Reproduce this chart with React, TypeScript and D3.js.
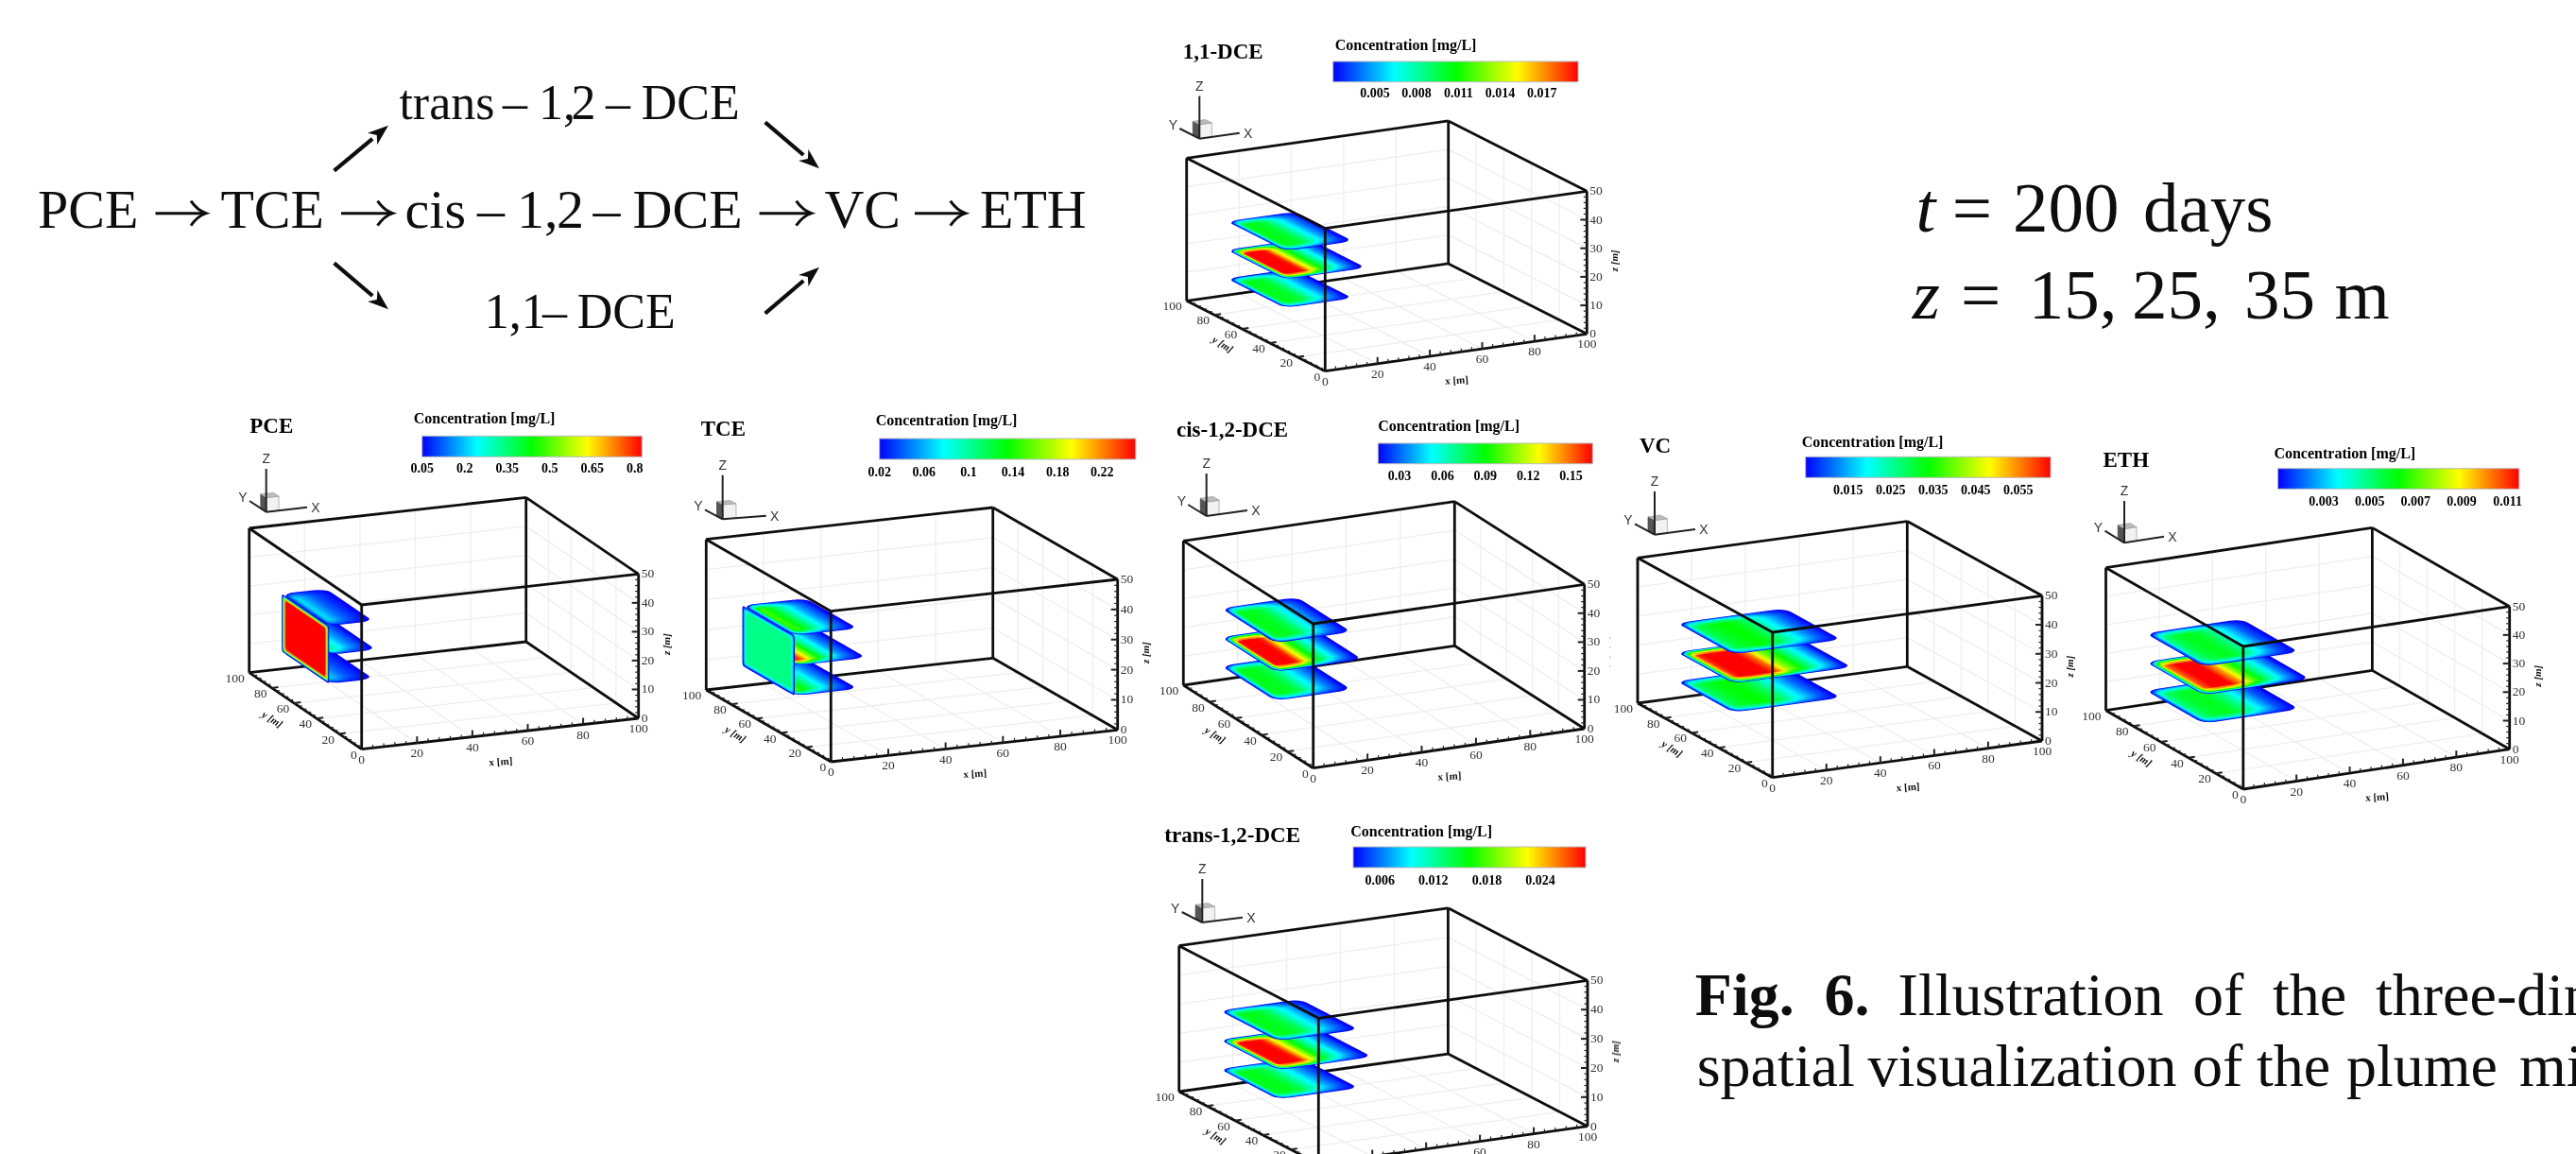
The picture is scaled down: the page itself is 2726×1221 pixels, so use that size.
import React from "react";
import * as d3 from "d3";

// ---------- data ----------
const axisTicksXY = [0, 20, 40, 60, 80, 100];
const axisTicksZ = [0, 10, 20, 30, 40, 50];
const sliceDepths = [15, 25, 35];
const plumeStations = [0, 0.05, 0.1, 0.2, 0.35, 0.45, 0.55, 0.65, 0.75, 0.85, 0.95, 1];

const pceTicks = [0.05, 0.2, 0.35, 0.5, 0.65, 0.8];
const tceTicks = [0.02, 0.06, 0.1, 0.14, 0.18, 0.22];
const cisTicks = [0.03, 0.06, 0.09, 0.12, 0.15];
const vcTicks = [0.015, 0.025, 0.035, 0.045, 0.055];
const ethTicks = [0.003, 0.005, 0.007, 0.009, 0.011];
const dce11Ticks = [0.005, 0.008, 0.011, 0.014, 0.017];
const transTicks = [0.006, 0.012, 0.018, 0.024];

const pceLabels = ["0.05", "0.2", "0.35", "0.5", "0.65", "0.8"];
const tceLabels = ["0.02", "0.06", "0.1", "0.14", "0.18", "0.22"];
const cisLabels = ["0.03", "0.06", "0.09", "0.12", "0.15"];
const vcLabels = ["0.015", "0.025", "0.035", "0.045", "0.055"];
const ethLabels = ["0.003", "0.005", "0.007", "0.009", "0.011"];
const dce11Labels = ["0.005", "0.008", "0.011", "0.014", "0.017"];
const transLabels = ["0.006", "0.012", "0.018", "0.024"];

const pceRange = [0.05, 0.825];
const tceRange = [0.02, 0.25];
const cisRange = [0.015, 0.165];
const vcRange = [0.005, 0.0626];
const ethRange = [0.001, 0.0115];
const dce11Range = [0.002, 0.0196];
const transRange = [0.003, 0.0291];

const pceMid = [0.5, 0.46, 0.4, 0.33, 0.26, 0.22, 0.18, 0.15, 0.12, 0.09, 0.065, 0.05];
const pceOuter = [0.28, 0.27, 0.25, 0.21, 0.17, 0.14, 0.12, 0.1, 0.085, 0.07, 0.055, 0.05];
const tceMid = [0.25, 0.25, 0.25, 0.235, 0.17, 0.135, 0.1, 0.078, 0.055, 0.04, 0.027, 0.02];
const tceOuter = [0.135, 0.145, 0.15, 0.145, 0.12, 0.1, 0.082, 0.065, 0.05, 0.038, 0.026, 0.02];
const cisMid = [0.09, 0.132, 0.162, 0.172, 0.1605, 0.126, 0.093, 0.072, 0.0525, 0.0345, 0.021, 0.015];
const cisOuter = [0.057, 0.075, 0.084, 0.087, 0.084, 0.0765, 0.063, 0.051, 0.039, 0.0285, 0.0195, 0.015];
const vcMid = [0.034, 0.048, 0.06, 0.0655, 0.064, 0.057, 0.042, 0.034, 0.025, 0.0165, 0.0085, 0.005];
const vcOuter = [0.019, 0.025, 0.029, 0.032, 0.034, 0.032, 0.028, 0.022, 0.0165, 0.011, 0.007, 0.005];
const ethMid = [0.0057, 0.0084, 0.0105, 0.0117, 0.0115, 0.0099, 0.0075, 0.0057, 0.0042, 0.0027, 0.0015, 0.001];
const ethOuter = [0.0031, 0.0042, 0.005, 0.0057, 0.006, 0.0057, 0.005, 0.0039, 0.0029, 0.0019, 0.0013, 0.001];
const dce11Mid = [0.0108, 0.0157, 0.0192, 0.0205, 0.0191, 0.015, 0.0112, 0.0087, 0.0064, 0.0043, 0.0027, 0.002];
const dce11Outer = [0.0069, 0.009, 0.0101, 0.0104, 0.0101, 0.0092, 0.0076, 0.0062, 0.0048, 0.0036, 0.0025, 0.002];
const transMid = [0.016, 0.0234, 0.0286, 0.0304, 0.0283, 0.0223, 0.0166, 0.0129, 0.0095, 0.0064, 0.004, 0.003];
const transOuter = [0.0103, 0.0134, 0.015, 0.0155, 0.015, 0.0137, 0.0114, 0.0093, 0.0072, 0.0053, 0.0038, 0.003];

const compounds = ["PCE", "TCE", "cis-1,2-DCE", "VC", "ETH", "1,1-DCE", "trans-1,2-DCE"];
const plumeLengthMid = [17, 25, 32, 44, 40, 31, 35];
const plumeLengthOuter = [16, 22, 28, 40, 36, 26, 30];
const sourceValues = [0.84, 0.105, null, null, null, null, null];
const plumeSpanY = [29, 71];
const sourceSpanZ = [15, 35];

const rainbowStops = [0, 0.25, 0.5, 0.75, 1];
const rainbowColors = ["#0000ff", "#00ffff", "#00ff00", "#ffff00", "#ff0000"];

// ---------- layout ----------
type Pt = [number, number];
const PAGE_H = 1221;
const layouts: any[] = [
  { O: [382.7, 792.7], X: [293, -32.7], Y: [-119, -81], Z: 152.7, bar: [446.7, 679.3, 461.3, 483.3], conc: [437.7, 448.3], tickY: 500, name: [264.3, 457.7],
    tri: { o: [281.7, 541.7], z: [281.7, 496], x: [325, 536.7], y: [264, 530] }, zTitle: true },
  { O: [879.3, 806], X: [303.4, -33.7], Y: [-132, -76], Z: 159.3, bar: [930.7, 1201.7, 464, 486], conc: [926.7, 450], tickY: 504.3, name: [741.7, 460.7],
    tri: { o: [764.7, 549.3], z: [764.7, 502.7], x: [810.7, 545.7], y: [746, 539.3] }, zTitle: true },
  { O: [1389.7, 812.7], X: [287, -41.7], Y: [-137.4, -87.7], Z: 152.7, bar: [1458.3, 1685.3, 469, 490.7], conc: [1458.3, 456], tickY: 508.3, name: [1245, 461.7],
    tri: { o: [1276.7, 546], z: [1276.7, 501], x: [1320, 540], y: [1257.3, 534] }, zTitle: false },
  { O: [1875.7, 822.7], X: [285.3, -38.7], Y: [-142.7, -78.7], Z: 153.7, bar: [1910.7, 2170, 483.3, 505.3], conc: [1906.7, 472.7], tickY: 523.3, name: [1735, 479.3],
    tri: { o: [1751, 565.7], z: [1751, 520], x: [1794, 560], y: [1730, 554.3] }, zTitle: true },
  { O: [2373.8, 835], X: [281.9, -42.3], Y: [-145.3, -83.3], Z: 151, bar: [2410.4, 2665.8, 495.7, 517.3], conc: [2406.4, 485], tickY: 535, name: [2225.5, 494],
    tri: { o: [2248, 574.3], z: [2248, 530], x: [2290, 567.7], y: [2227.5, 561.7] }, zTitle: true },
  { O: [1402.3, 392.7], X: [277, -39.4], Y: [-146.6, -74.4], Z: 151, bar: [1410.7, 1670, 65, 86.7], conc: [1412.7, 53], tickY: 103, name: [1251.7, 61.7],
    tri: { o: [1269.3, 146.7], z: [1269.3, 101.7], x: [1311.7, 140.7], y: [1248.3, 136] }, zTitle: true },
  { O: [1395.3, 1231.6], X: [284.7, -39.9], Y: [-147.6, -76.6], Z: 154.3, bar: [1432, 1678, 896, 918], conc: [1429.3, 885], tickY: 935.7, name: [1232.3, 890.7],
    tri: { o: [1272.3, 976], z: [1272.3, 930], x: [1315, 970.7], y: [1250.7, 965] }, zTitle: true },
];

const SERIF = "'Liberation Serif', 'Times New Roman', serif";
const SANS = "'Liberation Sans', Arial, sans-serif";

const rimK = [0, 0.3, 0.5, 0.7, 0.85, 1];
const rimY = [0, 0.8, 1.6, 2.8, 4.2, 6];
const rimX = [0, 0.5, 1, 1.5, 2, 2.5];
const faceK = [0, 0.35, 0.65, 0.85, 1];
const faceY = [0, 0.8, 1.6, 2.4, 3.2];
const faceZ = [0, 0.4, 0.8, 1.2, 1.6];

const rainbow = d3.scaleLinear<string>().domain(rainbowStops).range(rainbowColors).clamp(true);

function roundedRect(x0: number, y0: number, x1: number, y1: number, r: number) {
  const p = d3.path();
  p.moveTo(x0 + r, y0);
  p.lineTo(x1 - r, y0);
  p.arcTo(x1, y0, x1, y0 + r, r);
  p.lineTo(x1, y1 - r);
  p.arcTo(x1, y1, x1 - r, y1, r);
  p.lineTo(x0 + r, y1);
  p.arcTo(x0, y1, x0, y1 - r, r);
  p.lineTo(x0, y0 + r);
  p.arcTo(x0, y0, x0 + r, y0, r);
  p.closePath();
  return p.toString();
}

function Panel({ i, layout, ticks, labels, range, mid, outer }: any) {
  const L = layout;
  const sxX = d3.scaleLinear().domain([0, 100]).range([0, L.X[0]]);
  const sxY = d3.scaleLinear().domain([0, 100]).range([0, L.X[1]]);
  const syX = d3.scaleLinear().domain([0, 100]).range([0, L.Y[0]]);
  const syY = d3.scaleLinear().domain([0, 100]).range([0, L.Y[1]]);
  const sz = d3.scaleLinear().domain([0, 50]).range([0, -L.Z]);
  const P = (x: number, y: number, z: number): Pt => [L.O[0] + sxX(x) + syX(y), L.O[1] + sxY(x) + syY(y) + sz(z)];
  const seg = (a: Pt, b: Pt) => d3.line()([a, b]) as string;
  const unit = d3.scaleLinear().domain(range).range([0, 1]);
  const barX = d3.scaleLinear().domain(range).range([L.bar[0], L.bar[1]]);

  const gridXY = [20, 40, 60, 80];
  const gridZ = [10, 20, 30, 40];
  const gridSegs: [Pt, Pt][] = [
    ...gridXY.map((v) => [P(v, 0, 0), P(v, 100, 0)] as [Pt, Pt]),
    ...gridXY.map((v) => [P(0, v, 0), P(100, v, 0)] as [Pt, Pt]),
    ...gridXY.map((v) => [P(v, 100, 0), P(v, 100, 50)] as [Pt, Pt]),
    ...gridXY.map((v) => [P(100, v, 0), P(100, v, 50)] as [Pt, Pt]),
    ...gridZ.map((v) => [P(0, 100, v), P(100, 100, v)] as [Pt, Pt]),
    ...gridZ.map((v) => [P(100, 0, v), P(100, 100, v)] as [Pt, Pt]),
  ];
  const backEdges: [Pt, Pt][] = [
    [P(0, 100, 0), P(100, 100, 0)],
    [P(100, 100, 0), P(100, 0, 0)],
  ];
  const frontEdges: [Pt, Pt][] = [
    [P(100, 100, 0), P(100, 100, 50)],
    [P(0, 100, 50), P(100, 100, 50)],
    [P(100, 100, 50), P(100, 0, 50)],
    [P(0, 100, 0), P(0, 100, 50)],
    [P(100, 0, 0), P(100, 0, 50)],
    [P(0, 0, 0), P(0, 100, 0)],
    [P(0, 0, 0), P(100, 0, 0)],
    [P(0, 100, 50), P(0, 0, 50)],
    [P(0, 0, 50), P(100, 0, 50)],
    [P(0, 0, 0), P(0, 0, 50)],
  ];

  const samples = d3.range(0, 1.0001, 0.025);
  const barStops = d3.range(0, 1.0001, 0.125);
  const onPage = (y: number) => y - 10 < PAGE_H;

  const slices = sliceDepths.map((z, si) => {
    const isMid = z === 25;
    const len = isMid ? plumeLengthMid[i] : plumeLengthOuter[i];
    const prof = d3.scaleLinear().domain(plumeStations).range(isMid ? mid : outer);
    const p0 = P(0, 0, z), px = P(1, 0, z), py = P(0, 1, z);
    const matrix = `matrix(${px[0] - p0[0]} ${px[1] - p0[1]} ${py[0] - p0[0]} ${py[1] - p0[1]} ${p0[0]} ${p0[1]})`;
    return { z, si, isMid, len, prof, matrix };
  });

  const sv = sourceValues[i];
  const f0 = P(0, 0, 0), fy = P(0, 1, 0), fz = P(0, 0, 1);
  const faceMatrix = `matrix(${fy[0] - f0[0]} ${fy[1] - f0[1]} ${fz[0] - f0[0]} ${fz[1] - f0[1]} ${f0[0]} ${f0[1]})`;

  const tri = L.tri;
  const triP = (a: number, b: number, c: number): Pt => [
    tri.o[0] + a * (tri.x[0] - tri.o[0]) + b * (tri.y[0] - tri.o[0]),
    tri.o[1] + a * (tri.x[1] - tri.o[1]) + b * (tri.y[1] - tri.o[1]) + c * (tri.z[1] - tri.o[1]),
  ];
  const poly = (pts: Pt[]) => (d3.line()(pts) as string) + "Z";
  const ca = 0.31, cb = 0.33, cc = 0.33;
  const xTitleAt = P(50, 0, 0), yTitleAt = P(0, 50, 0), zTitleAt = P(100, 0, 25);

  return (
    <g>
      <defs>
        <linearGradient id={`bar${i}`} x1="0" x2="1" y1="0" y2="0">
          {barStops.map((t) => (
            <stop key={t} offset={t} stopColor={rainbow(t)} />
          ))}
        </linearGradient>
        {slices.map((s) =>
          rimK.map((k, ki) => (
            <linearGradient key={`${s.si}-${ki}`} id={`pl${i}-${s.si}-${ki}`} gradientUnits="userSpaceOnUse" x1={0} x2={s.len} y1={0} y2={0}>
              {samples.map((t) => (
                <stop key={t} offset={t} stopColor={rainbow(k * unit(s.prof(t)))} />
              ))}
            </linearGradient>
          ))
        )}
      </defs>

      {/* grid and rear edges */}
      {gridSegs.map((g, k) => (
        <path key={k} d={seg(g[0], g[1])} stroke="#eeeeee" strokeWidth={1.3} fill="none" />
      ))}
      {backEdges.map((g, k) => (
        <path key={k} d={seg(g[0], g[1])} stroke="#111" strokeWidth={2.8} fill="none" />
      ))}

      {/* plume slices */}
      {slices.map((s) => (
        <g key={s.si} transform={s.matrix}>
          {rimK.map((k, ki) => (
            <path
              key={ki}
              d={roundedRect(rimX[ki], plumeSpanY[0] + rimY[ki], s.len - rimX[ki], plumeSpanY[1] - rimY[ki], Math.max(0.8, 4.5 - rimX[ki]))}
              fill={`url(#pl${i}-${s.si}-${ki})`}
            />
          ))}
        </g>
      ))}

      {/* source face at x = 0 */}
      {sv !== null && (
        <g transform={faceMatrix}>
          {faceK.map((k, ki) => (
            <path
              key={ki}
              d={roundedRect(plumeSpanY[0] + faceY[ki], sourceSpanZ[0] + faceZ[ki], plumeSpanY[1] - faceY[ki], sourceSpanZ[1] - faceZ[ki], 1.2)}
              fill={rainbow(k * unit(sv))}
            />
          ))}
        </g>
      )}

      {/* front edges */}
      {frontEdges.map((g, k) => (
        <path key={k} d={seg(g[0], g[1])} stroke="#111" strokeWidth={2.8} fill="none" />
      ))}

      {/* x ticks */}
      {d3.range(4, 100, 4).map((v) => {
        const a = P(v, 0, 0);
        const big = v % 20 === 0;
        return <path key={v} d={seg(a, [a[0], a[1] - (big ? 7 : 3.5)])} stroke="#222" strokeWidth={big ? 2 : 1.2} />;
      })}
      {/* y ticks */}
      {d3.range(4, 100, 4).map((v) => {
        const a = P(0, v, 0);
        const big = v % 20 === 0;
        return <path key={v} d={seg(a, [a[0] + (big ? 7 : 3.5), a[1] - (big ? 1 : 0.5)])} stroke="#222" strokeWidth={big ? 2 : 1.2} />;
      })}
      {/* z ticks */}
      {d3.range(2, 50, 2).map((v) => {
        const a = P(100, 0, v);
        const big = v % 10 === 0;
        return <path key={v} d={seg(a, [a[0] - (big ? 7 : 3.5), a[1]])} stroke="#222" strokeWidth={big ? 2 : 1.2} />;
      })}

      {/* axis numbers */}
      <g fontFamily={SERIF} fontSize={13.5} fill="#333">
        {axisTicksXY.map((v) => {
          const a = P(v, 0, 0);
          return onPage(a[1] + 15) ? <text key={"x" + v} x={a[0]} y={a[1] + 15} textAnchor="middle">{v}</text> : null;
        })}
        {axisTicksXY.map((v) => {
          const a = P(0, v, 0);
          return onPage(a[1] + 10) ? <text key={"y" + v} x={a[0] - 5} y={a[1] + 10} textAnchor="end">{v}</text> : null;
        })}
        {axisTicksZ.map((v) => {
          const a = P(100, 0, v);
          return <text key={"z" + v} x={a[0] + 3} y={a[1] + 4} textAnchor="start">{v}</text>;
        })}
      </g>

      {/* axis titles */}
      <g fontFamily={SERIF} fontSize={11} fontWeight="bold" fill="#111" textAnchor="middle">
        {onPage(xTitleAt[1] + 33) && (
          <text transform={`translate(${xTitleAt[0] + 1},${xTitleAt[1] + 33}) rotate(-4)`}>x [m]</text>
        )}
        {onPage(yTitleAt[1] + 12) && (
          <text fontStyle="italic" transform={`translate(${yTitleAt[0] - 37},${yTitleAt[1] + 12}) rotate(32)`}>y [m]</text>
        )}
        {L.zTitle ? (
          <text fontStyle="italic" transform={`translate(${zTitleAt[0] + 33},${zTitleAt[1] - 2}) rotate(-90)`}>z [m]</text>
        ) : (
          <path d={seg([zTitleAt[0] + 27, zTitleAt[1] - 20], [zTitleAt[0] + 27, zTitleAt[1] + 14])} stroke="#777" strokeWidth={1} strokeDasharray="1 9" />
        )}
      </g>

      {/* triad */}
      <path d={poly([triP(0, 0, 0), triP(0, cb, 0), triP(0, cb, cc), triP(0, 0, cc)])} fill="#555" stroke="#444" strokeWidth={0.8} />
      <path d={poly([triP(0, 0, 0), triP(ca, 0, 0), triP(ca, 0, cc), triP(0, 0, cc)])} fill="#f2f2f2" stroke="#aaa" strokeWidth={0.8} />
      <path d={poly([triP(0, 0, cc), triP(ca, 0, cc), triP(ca, cb, cc), triP(0, cb, cc)])} fill="#bbb" stroke="#999" strokeWidth={0.6} />
      <path d={seg(tri.o, tri.z)} stroke="#222" strokeWidth={2} />
      <path d={seg(tri.o, tri.x)} stroke="#222" strokeWidth={2} />
      <path d={seg(tri.o, tri.y)} stroke="#222" strokeWidth={2} />
      <g fontFamily={SANS} fontSize={14} fill="#333" textAnchor="middle">
        <text x={tri.z[0]} y={tri.z[1] - 6}>Z</text>
        <text x={tri.x[0] + 9} y={tri.x[1] + 5}>X</text>
        <text x={tri.y[0] - 7} y={tri.y[1] + 1}>Y</text>
      </g>

      {/* headings and colour bar */}
      <text x={L.name[0]} y={L.name[1]} fontFamily={SERIF} fontWeight="bold" fontSize={23} fill="#000">{compounds[i]}</text>
      <text x={L.conc[0]} y={L.conc[1]} fontFamily={SERIF} fontWeight="bold" fontSize={16} fill="#000">Concentration [mg/L]</text>
      <rect x={L.bar[0]} y={L.bar[2]} width={L.bar[1] - L.bar[0]} height={L.bar[3] - L.bar[2]} fill={`url(#bar${i})`} stroke="#bbb" strokeWidth={1} />
      <g fontFamily={SERIF} fontWeight="bold" fontSize={14} fill="#000" textAnchor="middle">
        {ticks.map((t: number, k: number) => (
          <text key={t} x={barX(t)} y={L.tickY}>{labels[k]}</text>
        ))}
      </g>
    </g>
  );
}

// ---------- reaction scheme ----------
const schemeRows = [
  { size: 58, y: 241, items: [["PCE", 40], ["TCE", 233.4], ["cis", 428.6], ["–", 505], ["1,", 547], ["2", 589], ["–", 627.5], ["DCE", 669.6], ["VC", 872.4], ["ETH", 1037]] },
  { size: 52, y: 125.7, items: [["trans", 422.4], ["–", 532], ["1,", 570], ["2", 604.6], ["–", 641], ["DCE", 678.8]] },
  { size: 52, y: 346.7, items: [["1,1", 512.7], ["–", 574], ["DCE", 610.7]] },
];
const straightArrows = [[164.5, 218], [361, 415.5], [803.6, 858.6], [968, 1021.7]];
const slantArrows = [
  [353.6, 180.7, 411, 132.7],
  [809.7, 129.3, 867, 178.3],
  [353.6, 278.3, 411, 327.3],
  [809.7, 331.7, 867, 282.7],
];
const schemeAxisY = 225.7;

const noteWords = [
  { y: 245, words: [["t", 2027.6, "italic"], ["=", 2065.7, ""], ["200", 2130, ""], ["days", 2268, ""]] },
  { y: 336.7, words: [["z", 2023.8, "italic"], ["=", 2075, ""], ["15,", 2146.7, ""], ["25,", 2256, ""], ["35", 2375, ""], ["m", 2470.5, ""]] },
];
const captionWords = [
  { y: 1074, words: [["Fig.", 1793.8, "bold"], ["6.", 1930.4, "bold"], ["Illustration", 2008.6, ""], ["of", 2321, ""], ["the", 2405, ""], ["three-dim", 2514, ""]] },
  { y: 1149, words: [["spatial", 1795.7, ""], ["visualization", 1976.5, ""], ["of", 2320, ""], ["the", 2388, ""], ["plume", 2483, ""], ["mi", 2666, ""]] },
];

function Scheme() {
  return (
    <g fill="#111" fontFamily={SERIF}>
      {schemeRows.map((r, ri) =>
        r.items.map((it: any, k: number) => (
          <text key={`${ri}-${k}`} x={it[1]} y={r.y} fontSize={r.size}>{it[0]}</text>
        ))
      )}
      {straightArrows.map((a, k) => {
        const y = schemeAxisY, x2 = a[1];
        return (
          <g key={k} fill="none" stroke="#111">
            <path d={d3.line()([[a[0], y], [x2 - 1, y]]) as string} strokeWidth={3} />
            <path d={`M${x2 - 16},${y - 13} Q${x2 - 9},${y - 3} ${x2},${y} Q${x2 - 9},${y + 3} ${x2 - 16},${y + 13}`} strokeWidth={3} />
          </g>
        );
      })}
      {slantArrows.map((a, k) => {
        const ang = Math.atan2(a[3] - a[1], a[2] - a[0]);
        const back: Pt = [a[2] - 22 * Math.cos(ang), a[3] - 22 * Math.sin(ang)];
        const n: Pt = [-Math.sin(ang) * 8, Math.cos(ang) * 8];
        return (
          <g key={k}>
            <path d={d3.line()([[a[0], a[1]], back]) as string} stroke="#111" strokeWidth={4.2} fill="none" />
            <path d={d3.line()([[a[2], a[3]], [back[0] + n[0], back[1] + n[1]], [a[2] - 16 * Math.cos(ang), a[3] - 16 * Math.sin(ang)], [back[0] - n[0], back[1] - n[1]]]) + "Z"} fill="#111" />
          </g>
        );
      })}
    </g>
  );
}

export default function App() {
  const panelData = [
    [pceTicks, pceLabels, pceRange, pceMid, pceOuter],
    [tceTicks, tceLabels, tceRange, tceMid, tceOuter],
    [cisTicks, cisLabels, cisRange, cisMid, cisOuter],
    [vcTicks, vcLabels, vcRange, vcMid, vcOuter],
    [ethTicks, ethLabels, ethRange, ethMid, ethOuter],
    [dce11Ticks, dce11Labels, dce11Range, dce11Mid, dce11Outer],
    [transTicks, transLabels, transRange, transMid, transOuter],
  ];
  return (
    <svg
      width={2726}
      height={1221}
      viewBox="0 0 2726 1221"
      style={{ position: "absolute", left: 0, top: 0, display: "block", background: "#fff" }}
    >
      <defs>
        <filter id="soft" filterUnits="userSpaceOnUse" x={0} y={0} width={2726} height={1221}>
          <feGaussianBlur stdDeviation={0.6} />
        </filter>
        <filter id="softer" filterUnits="userSpaceOnUse" x={0} y={0} width={2726} height={1221}>
          <feGaussianBlur stdDeviation={0.35} />
        </filter>
      </defs>
      <g filter="url(#soft)">
        {layouts.map((L, i) => {
          const d = panelData[i];
          return <Panel key={i} i={i} layout={L} ticks={d[0]} labels={d[1]} range={d[2]} mid={d[3]} outer={d[4]} />;
        })}
      </g>
      <g filter="url(#softer)">
        <Scheme />
        <g fontFamily={SERIF} fontSize={75} fill="#111">
          {noteWords.map((r, ri) =>
            r.words.map((w: any, k) => (
              <text key={`${ri}-${k}`} x={w[1]} y={r.y} fontStyle={w[2] === "italic" ? "italic" : "normal"}>{w[0]}</text>
            ))
          )}
        </g>
        <g fontFamily={SERIF} fontSize={64} fill="#111">
          {captionWords.map((r, ri) =>
            r.words.map((w: any, k) => (
              <text key={`${ri}-${k}`} x={w[1]} y={r.y} fontWeight={w[2] === "bold" ? "bold" : "normal"}>{w[0]}</text>
            ))
          )}
        </g>
      </g>
    </svg>
  );
}
